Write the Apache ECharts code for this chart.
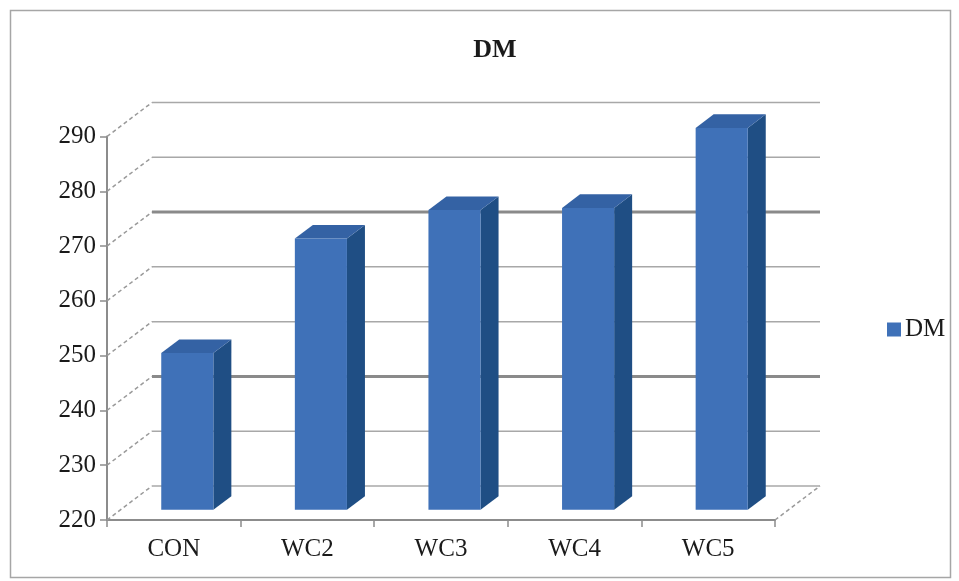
<!DOCTYPE html>
<html>
<head>
<meta charset="utf-8">
<script src="https://cdn.jsdelivr.net/npm/echarts@6/dist/echarts.min.js"></script>
<style>
html,body{margin:0;padding:0;background:#fff;}
#chart{width:959px;height:581px;}
</style>
</head>
<body>
<div id="chart"></div>
<script>
const categories = ['CON', 'WC2', 'WC3', 'WC4', 'WC5'];
const dmValues = [248.6, 269.5, 274.7, 275.1, 289.7];
const yTicks = [220, 230, 240, 250, 260, 270, 280, 290];
const seriesName = 'DM';

const FONT = "'Liberation Serif', 'Times New Roman', serif";
const DX = 45, DY = -34;           // depth of the 3D box (pixels)
const BAR_D0 = 0.3, BAR_D1 = 0.7;  // bar depth span (fraction)
const BAR_W = 0.39;                // bar width fraction of category
const heavyLines = [240, 270];

const chart = echarts.init(document.getElementById('chart'), null, {renderer: 'canvas'});

function wallItem(params, api) {
  const cs = params.coordSys;
  const v = api.value(1);
  const y = api.coord([0, v])[1];
  const heavy = heavyLines.indexOf(v) >= 0;
  const x0 = cs.x, x1 = cs.x + cs.width;
  const children = [
    {type: 'line', shape: {x1: x0, y1: y, x2: x0 + DX, y2: y + DY},
     style: {stroke: '#9a9a9a', lineWidth: 1.5, lineDash: [4, 3]}},
    {type: 'line', shape: {x1: x0 + DX, y1: y + DY, x2: x1 + DX, y2: y + DY},
     style: {stroke: heavy ? '#8a8a8a' : '#a8a8a8', lineWidth: heavy ? 3 : 1.5}}
  ];
  if (v === yTicks[0]) {
    children.push({type: 'line', shape: {x1: x1, y1: y, x2: x1 + DX, y2: y + DY},
      style: {stroke: '#9a9a9a', lineWidth: 1.5, lineDash: [4, 3]}});
  }
  return {type: 'group', children: children, silent: true};
}

function barItem(params, api) {
  const i = api.value(0), v = api.value(1);
  const base = api.coord([i, yTicks[0]]);
  const top = api.coord([i, v]);
  const w = api.size([1, 0])[0] * BAR_W;
  const ox = DX * BAR_D0, oy = DY * BAR_D0;
  const dx = DX * (BAR_D1 - BAR_D0), dy = DY * (BAR_D1 - BAR_D0);
  const xl = base[0] + ox - w / 2, xr = base[0] + ox + w / 2;
  const yb = base[1] + oy, yt = top[1] + oy;
  return {
    type: 'group',
    children: [
      {type: 'polygon', shape: {points: [[xr, yb], [xr, yt], [xr + dx, yt + dy], [xr + dx, yb + dy]]},
       style: {fill: '#1f4e84'}},
      {type: 'polygon', shape: {points: [[xl, yt], [xr, yt], [xr + dx, yt + dy], [xl + dx, yt + dy]]},
       style: {fill: '#3462a4'}},
      {type: 'rect', shape: {x: xl, y: yt, width: w, height: yb - yt},
       style: {fill: '#3f71b8'}}
    ]
  };
}

chart.setOption({
  animation: false,
  backgroundColor: '#ffffff',
  title: {
    text: 'DM', left: 490, top: 32, textAlign: 'center',
    textStyle: {fontFamily: FONT, fontSize: 26, fontWeight: 'bold', color: '#1a1a1a'}
  },
  legend: {
    data: [seriesName], orient: 'vertical', left: 882, top: 312,
    icon: 'rect', itemWidth: 14, itemHeight: 14, itemGap: 4,
    textStyle: {fontFamily: FONT, fontSize: 25, color: '#1a1a1a', padding: [0, 0, 0, -1]}
  },
  graphic: [{
    type: 'rect', shape: {x: 10.5, y: 10.5, width: 940, height: 567},
    style: {fill: null, stroke: '#a6a6a6', lineWidth: 1.5}, silent: true, z: -10
  }],
  grid: {left: 107, right: 184, top: 136.5, bottom: 61},
  xAxis: {
    type: 'category', data: categories, boundaryGap: true,
    axisLine: {show: true, lineStyle: {color: '#8c8c8c', width: 2}},
    axisTick: {show: true, length: 7, lineStyle: {color: '#8c8c8c', width: 1.5}},
    axisLabel: {fontFamily: FONT, fontSize: 25, color: '#1a1a1a', margin: 17},
    splitLine: {show: false}
  },
  yAxis: {
    type: 'value', min: 220, max: 290, interval: 10,
    axisLine: {show: true, lineStyle: {color: '#8c8c8c', width: 2}},
    axisTick: {show: true, length: 7, lineStyle: {color: '#8c8c8c', width: 1.5}},
    axisLabel: {fontFamily: FONT, fontSize: 25, color: '#1a1a1a', margin: 11},
    splitLine: {show: false}
  },
  series: [
    {
      type: 'custom', name: '_wall', silent: true, z: 1,
      renderItem: wallItem,
      encode: {x: 0, y: 1},
      data: yTicks.map(v => [0, v]),
      tooltip: {show: false}
    },
    {
      type: 'custom', name: seriesName, z: 5,
      itemStyle: {color: '#3f71b8'},
      renderItem: barItem,
      encode: {x: 0, y: 1},
      data: dmValues.map((v, i) => [i, v])
    }
  ]
});
</script>
</body>
</html>
